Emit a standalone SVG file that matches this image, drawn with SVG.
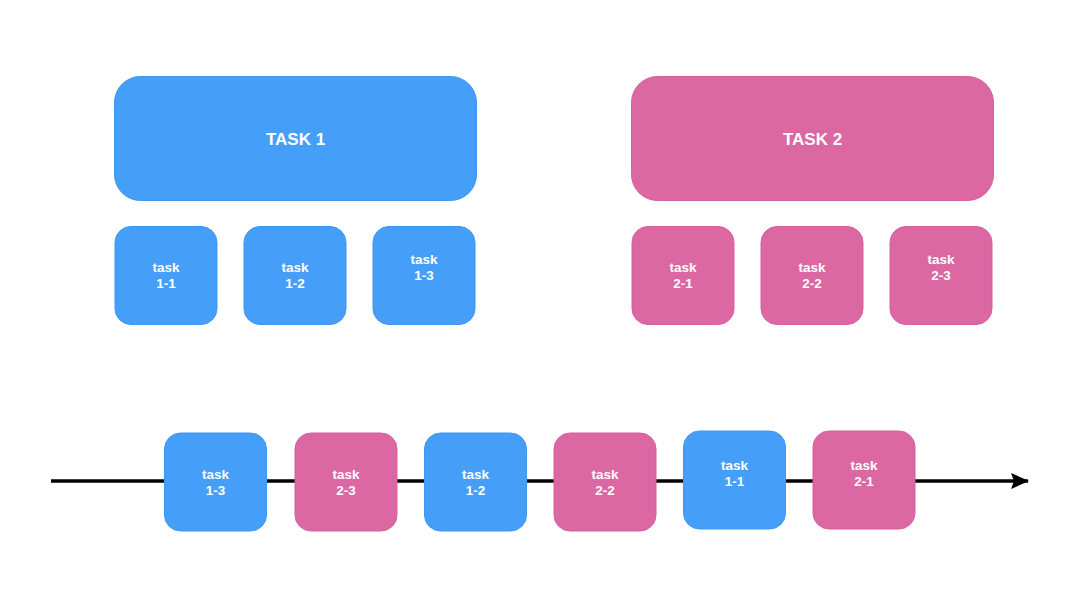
<svg xmlns="http://www.w3.org/2000/svg" width="1080" height="608" viewBox="0 0 1080 608">
<style>
.blue{fill:#459ff8;stroke:#3d97f0;stroke-width:1}
.pink{fill:#db67a3;stroke:#d65f9d;stroke-width:1}
text{font-family:"Helvetica","Liberation Sans",Arial,sans-serif;font-weight:bold;fill:#ffffff;text-anchor:middle}
.big{font-size:17px}
.small{font-size:13.5px}
</style>
<defs>
<marker id="arrow" markerWidth="18" markerHeight="18" refX="17" refY="9" orient="auto" markerUnits="userSpaceOnUse">
<path d="M0,1 L18,9 L0,17 L3,9 Z" fill="#000"/>
</marker>
</defs>
<rect width="1080" height="608" fill="#ffffff"/>
<g id="connectors">
<line x1="51" y1="481" x2="1028" y2="481" stroke="#000" stroke-width="3.5" marker-end="url(#arrow)"/>
</g>
<g id="task1">
<rect class="blue" x="114.5" y="76.5" width="362" height="124" rx="26"/>
<text class="big" x="295.5" y="145">TASK 1</text>
</g>
<g id="task2">
<rect class="pink" x="631.5" y="76.5" width="362" height="124" rx="26"/>
<text class="big" x="812.5" y="145">TASK 2</text>
</g>
<g id="task1-1">
<rect class="blue" x="115" y="226.5" width="102" height="98" rx="16"/>
<text class="small" x="166" y="272">task</text>
<text class="small" x="166" y="288">1-1</text>
</g>
<g id="task1-2">
<rect class="blue" x="244" y="226.5" width="102" height="98" rx="16"/>
<text class="small" x="295" y="272">task</text>
<text class="small" x="295" y="288">1-2</text>
</g>
<g id="task1-3">
<rect class="blue" x="373" y="226.5" width="102" height="98" rx="16"/>
<text class="small" x="424" y="264">task</text>
<text class="small" x="424" y="280">1-3</text>
</g>
<g id="task2-1">
<rect class="pink" x="632" y="226.5" width="102" height="98" rx="16"/>
<text class="small" x="683" y="272">task</text>
<text class="small" x="683" y="288">2-1</text>
</g>
<g id="task2-2">
<rect class="pink" x="761" y="226.5" width="102" height="98" rx="16"/>
<text class="small" x="812" y="272">task</text>
<text class="small" x="812" y="288">2-2</text>
</g>
<g id="task2-3">
<rect class="pink" x="890" y="226.5" width="102" height="98" rx="16"/>
<text class="small" x="941" y="264">task</text>
<text class="small" x="941" y="280">2-3</text>
</g>
<g id="seq-task1-3">
<rect class="blue" x="164.5" y="433" width="102" height="98" rx="16"/>
<text class="small" x="215.5" y="479">task</text>
<text class="small" x="215.5" y="495">1-3</text>
</g>
<g id="seq-task2-3">
<rect class="pink" x="295" y="433" width="102" height="98" rx="16"/>
<text class="small" x="346" y="479">task</text>
<text class="small" x="346" y="495">2-3</text>
</g>
<g id="seq-task1-2">
<rect class="blue" x="424.5" y="433" width="102" height="98" rx="16"/>
<text class="small" x="475.5" y="479">task</text>
<text class="small" x="475.5" y="495">1-2</text>
</g>
<g id="seq-task2-2">
<rect class="pink" x="554" y="433" width="102" height="98" rx="16"/>
<text class="small" x="605" y="479">task</text>
<text class="small" x="605" y="495">2-2</text>
</g>
<g id="seq-task1-1">
<rect class="blue" x="683.5" y="431" width="102" height="98" rx="16"/>
<text class="small" x="734.5" y="470">task</text>
<text class="small" x="734.5" y="486">1-1</text>
</g>
<g id="seq-task2-1">
<rect class="pink" x="813" y="431" width="102" height="98" rx="16"/>
<text class="small" x="864" y="470">task</text>
<text class="small" x="864" y="486">2-1</text>
</g>
</svg>
